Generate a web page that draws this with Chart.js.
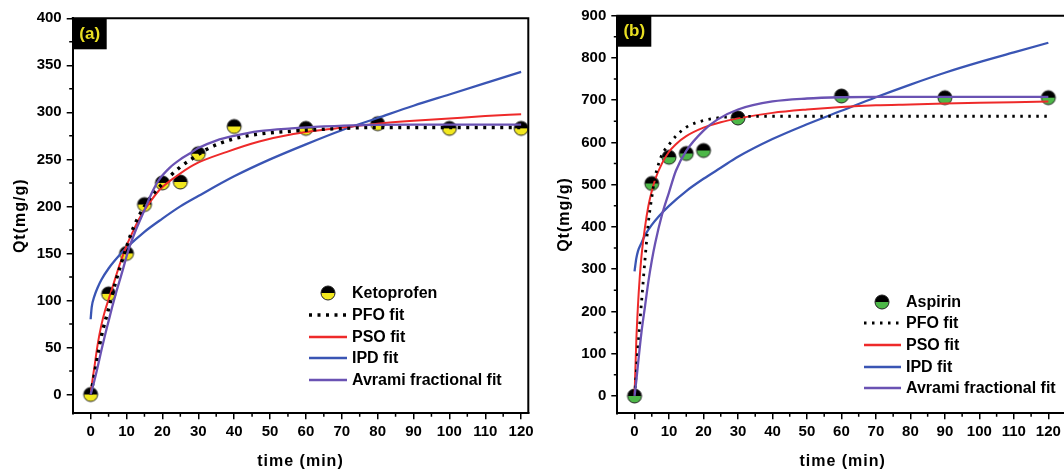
<!DOCTYPE html>
<html>
<head>
<meta charset="utf-8">
<script src="https://cdn.jsdelivr.net/npm/chart.js@4.4.1/dist/chart.umd.min.js"></script>
<style>
html,body{margin:0;padding:0;width:1064px;height:471px;overflow:hidden;background:#fff;}
canvas{position:absolute;top:0;}
</style>
</head>
<body>
<canvas id="ca" width="540" height="471" style="left:0px"></canvas>
<canvas id="cb" width="540" height="471" style="left:545px"></canvas>
<script>
// ---------- tick labels ----------
const xTicks = [0,10,20,30,40,50,60,70,80,90,100,110,120];
const xMinor = [5,15,25,35,45,55,65,75,85,95,105,115];
const yTicksA = [0,50,100,150,200,250,300,350,400];
const yMinorA = [25,75,125,175,225,275,325,375];
const yTicksB = [0,100,200,300,400,500,600,700,800,900];
const yMinorB = [50,150,250,350,450,550,650,750,850];

// ---------- panel (a) Ketoprofen ----------
const ketoT = [0,5,10,15,20,25,30,40,60,80,100,120];
const ketoQ = [0,107,150,202,225,226,256,285,283,288,283,283];

const pfoA_T = [0,1,2,3,5,7,9,12,15,17,20,25,28,32,36,40,47,56,65,80,100,120];
const pfoA_Q = [0,20,42,62,91,120,145,178,200,211,224,242,250,260,267,272,277,280,282,284,284,284];

const psoA_T = [0,0.5,1,2,3,4,5,6,8,10,12,14,17,19.3,23.5,28.6,38,47,56.5,66,74,80,90,100,110,120];
const psoA_Q = [0,15,28,54,74,89,101,113,137,158,175,190,207,218,231,244,258,269,277,282,285.6,288,291,293.5,296,298];

const ipdA_T = [0,0.3,1,2,3,5,8,10,15,20,25,30,40,50,60,70,80,90,100,110,120];
const ipdA_Q = [80,93,104,114,122,134,148,156,173,187,200,211,232,250,266,281,294,307,319,331,343];

const avrA_T = [0,1,2,3,4,5,6,7,8,9,10.4,12.3,15,17,19,22,25,28,30,35,40,47,56,65,75,90,120];
const avrA_Q = [0,14,30,47,63,78,93,107,120,133,152,172,196,214,228,241,250,257,262,270,275,280,283,285,286.5,287,287];

// ---------- panel (b) Aspirin ----------
const aspT = [0,5,10,15,20,30,60,90,120];
const aspQ = [0,503,565,574,581,658,710,706,706];

const pfoB_T = [0,0.5,1,1.6,2,3,4,5,6,7,8,10,12,15,20,25,30,40,120];
const pfoB_Q = [0,55,115,180,220,320,410,470,520,550,572,595,615,636,652,659,661,662,662];

const psoB_T = [0,0.5,1,1.5,2,3,4,5,6,8,10,12,15,20,25,30,40,50,60,70,80,90,100,110,120];
const psoB_Q = [0,128,215,280,330,398,449,485,513,551,578,596,615,635,648,657,670,678,684,688,690,692,694,695,697];

const ipdB_T = [0,0.5,1,2,3,5,7,10,15,20,25,30,40,50,60,70,80,90,100,110,120];
const ipdB_Q = [295,325,343,362,380,405,425,450,485,514,540,566,608,643,675,707,737,765,790,813,836];

const avrB_T = [0,0.5,1,2,3,4,5,6,8,10,12,15,20,24,30,40,50,60,70,120];
const avrB_Q = [0,35,75,150,210,270,320,362,430,482,533,580,628,654,678,697,704,707,708,708];

// ---------- styling ----------
const FONT = '"Liberation Sans", Arial, sans-serif';
const RED = '#ee2a2a', BLUE = '#3a55b4', PURPLE = '#6a52b3';

function pts(t, q){ return t.map((x,i)=>({x:x, y:q[i]})); }

function makeMarker(color){
  const c = document.createElement('canvas');
  c.width = 18; c.height = 18;
  const g = c.getContext('2d');
  const r = 7, cx = 9, cy = 9;
  g.beginPath(); g.arc(cx,cy,r,Math.PI,2*Math.PI); g.closePath(); g.fillStyle='#000'; g.fill();
  g.beginPath(); g.arc(cx,cy,r,0,Math.PI); g.closePath(); g.fillStyle=color; g.fill();
  g.beginPath(); g.arc(cx,cy,r,0,2*Math.PI); g.lineWidth=1; g.strokeStyle='#222'; g.stroke();
  return c;
}

function lineDs(t,q,color,width,order,dash){
  return {data:pts(t,q), showLine:true, borderColor:color, borderWidth:width, pointRadius:0,
          borderDash:dash||[], cubicInterpolationMode:'monotone', order:order, fill:false};
}

function makeDecor(o){
  return {
    id:'decor'+o.tag,
    afterDraw(chart){
      const ctx = chart.ctx, a = chart.chartArea;
      const xs = chart.scales.x, ys = chart.scales.y;
      ctx.save();
      ctx.strokeStyle='#000'; ctx.lineWidth=2;
      ctx.beginPath(); ctx.moveTo(a.left-1,a.top); ctx.lineTo(a.right,a.top); ctx.lineTo(a.right,a.bottom); ctx.stroke();
      ctx.lineWidth=1.5;
      ctx.beginPath();
      xMinor.forEach(v=>{ const px=xs.getPixelForValue(v); ctx.moveTo(px,a.bottom); ctx.lineTo(px,a.bottom+3.5); });
      o.yMinor.forEach(v=>{ const py=ys.getPixelForValue(v); ctx.moveTo(a.left,py); ctx.lineTo(a.left-3.5,py); });
      ctx.stroke();
      ctx.fillStyle='#000';
      ctx.fillRect(a.left, a.top, 34, 31);
      ctx.fillStyle='#e8de22';
      ctx.font='bold 17px '+FONT;
      ctx.textAlign='center'; ctx.textBaseline='middle';
      ctx.fillText(o.tag, a.left+17, a.top+16);
      ctx.fillStyle='#000';
      ctx.font='bold 16px '+FONT;
      ctx.letterSpacing='1px';
      ctx.fillText('time (min)', (a.left+a.right)/2, 461.5);
      ctx.save();
      ctx.translate(o.yTitleX, (a.top+a.bottom)/2);
      ctx.rotate(-Math.PI/2);
      ctx.fillText('Qt(mg/g)', 0, 0);
      ctx.restore();
      ctx.letterSpacing='0px';
      const L = o.legend;
      ctx.font='bold 16px '+FONT;
      ctx.textAlign='left'; ctx.textBaseline='middle';
      L.items.forEach((it,i)=>{
        const y = L.rows[i];
        if (it.marker){
          ctx.drawImage(it.marker, L.mx-9, y-9, 18, 18);
        } else {
          ctx.save();
          ctx.strokeStyle=it.color; ctx.lineWidth=it.width; ctx.setLineDash(it.dash||[]);
          ctx.beginPath(); ctx.moveTo(L.x0,y); ctx.lineTo(L.x1,y); ctx.stroke();
          ctx.restore();
        }
        ctx.fillStyle='#000';
        ctx.fillText(it.label, L.tx, y+1);
      });
      ctx.restore();
    }
  };
}

function buildChart(id, cfg){
  const marker = makeMarker(cfg.markerColor);
  const datasets = [
    {data:pts(cfg.ptT,cfg.ptQ), pointStyle:marker, pointRadius:7, showLine:false, order:10},
    lineDs(cfg.ipd[0],cfg.ipd[1],BLUE,2.3,4),
    lineDs(cfg.pso[0],cfg.pso[1],RED,2,3),
    lineDs(cfg.pfo[0],cfg.pfo[1],'#000',cfg.dotW,2,cfg.dot),
    lineDs(cfg.avr[0],cfg.avr[1],PURPLE,2.3,1)
  ];
  const legend = {
    mx:cfg.lg.mx, x0:cfg.lg.x0, x1:cfg.lg.x1, tx:cfg.lg.tx, rows:cfg.lg.rows,
    items:[
      {marker:marker, label:cfg.name},
      {color:'#000', width:cfg.dotW, dash:cfg.dot, label:'PFO fit'},
      {color:RED, width:2.3, label:'PSO fit'},
      {color:BLUE, width:2.3, label:'IPD fit'},
      {color:PURPLE, width:2.3, label:'Avrami fractional fit'}
    ]
  };
  return new Chart(document.getElementById(id), {
    type:'scatter',
    data:{datasets:datasets},
    options:{
      responsive:false, animation:false, devicePixelRatio:1,
      layout:{padding:{left:0, top:cfg.pad.top, right:cfg.pad.right, bottom:0}},
      plugins:{legend:{display:false}, tooltip:{enabled:false}},
      scales:{
        x:{type:'linear', min:-5, max:cfg.xMax,
           afterBuildTicks:s=>{ s.ticks = xTicks.map(v=>({value:v})); },
           afterFit:s=>{ s.height = 471 - 413.3; },
           ticks:{font:{family:FONT, size:15, weight:'bold'}, color:'#000', padding:4, maxRotation:0, autoSkip:false},
           grid:{display:true, drawOnChartArea:false, drawTicks:true, tickLength:6, color:'#000', lineWidth:1.5},
           border:{display:true, color:'#000', width:2}},
        y:{type:'linear', min:cfg.yMin, max:cfg.yMax,
           afterBuildTicks:s=>{ s.ticks = cfg.yTicks.map(v=>({value:v})); },
           afterFit:s=>{ s.width = cfg.left; },
           ticks:{font:{family:FONT, size:15, weight:'bold'}, color:'#000', padding:5},
           grid:{display:true, drawOnChartArea:false, drawTicks:true, tickLength:6, color:'#000', lineWidth:1.5},
           border:{display:true, color:'#000', width:2}}
      }
    },
    plugins:[makeDecor({tag:cfg.tag, yMinor:cfg.yMinor, yTitleX:cfg.yTitleX, legend:legend})]
  });
}

buildChart('ca', {
  tag:'(a)', name:'Ketoprofen', markerColor:'#f2e81e',
  ptT:ketoT, ptQ:ketoQ,
  pfo:[pfoA_T,pfoA_Q], pso:[psoA_T,psoA_Q], ipd:[ipdA_T,ipdA_Q], avr:[avrA_T,avrA_Q],
  dot:[3,5.5], dotW:3.5,
  xMax:122, yMin:-20, yMax:400, yTicks:yTicksA, yMinor:yMinorA,
  left:72.7, pad:{top:18.3, right:11.7}, yTitleX:21,
  lg:{mx:328, x0:309, x1:347, tx:352, rows:[293,315,337,358,380]}
});

buildChart('cb', {
  tag:'(b)', name:'Aspirin', markerColor:'#4db848',
  ptT:aspT, ptQ:aspQ,
  pfo:[pfoB_T,pfoB_Q], pso:[psoB_T,psoB_Q], ipd:[ipdB_T,ipdB_Q], avr:[avrB_T,avrB_Q],
  dot:[2.5,5.5], dotW:2.8,
  xMax:125.7, yMin:-41, yMax:900, yTicks:yTicksB, yMinor:yMinorB,
  left:72.3, pad:{top:15.7, right:17}, yTitleX:20,
  lg:{mx:337, x0:319, x1:356, tx:361, rows:[302,323,345,367,388]}
});
</script>
</body>
</html>
